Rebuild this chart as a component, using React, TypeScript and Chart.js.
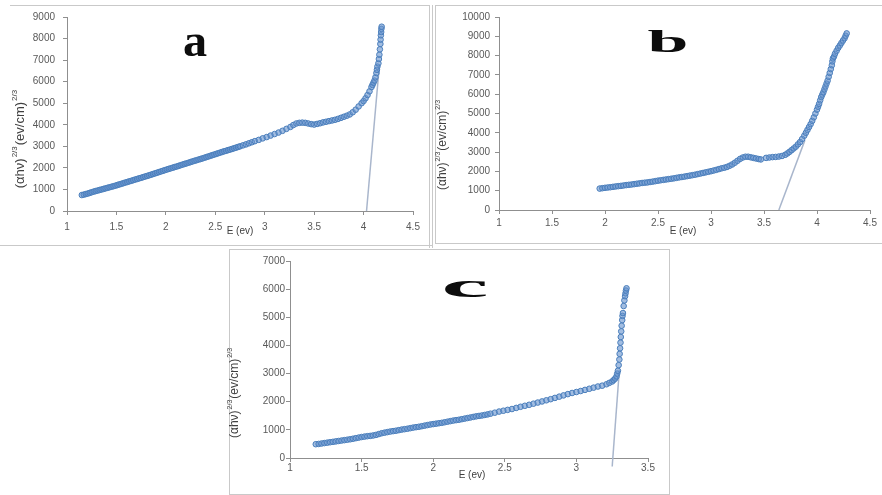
import React, { useEffect, useRef } from "react";
import { Chart, registerables } from "chart.js";

Chart.register(...registerables);

// ---------- Panel a ----------
const aEnergy = [
  1.15, 1.17, 1.19, 1.21, 1.23, 1.25, 1.27, 1.29, 1.31, 1.33, 1.35, 1.37, 1.39, 1.41, 1.43, 1.45,
  1.47, 1.49, 1.51, 1.53, 1.55, 1.57, 1.59, 1.61, 1.63, 1.65, 1.67, 1.69, 1.71, 1.73, 1.75, 1.77,
  1.79, 1.81, 1.83, 1.85, 1.87, 1.89, 1.91, 1.93, 1.95, 1.97, 1.99, 2.01, 2.03, 2.05, 2.07, 2.09,
  2.11, 2.13, 2.15, 2.17, 2.19, 2.21, 2.23, 2.25, 2.27, 2.29, 2.31, 2.33, 2.35, 2.37, 2.39, 2.41,
  2.43, 2.45, 2.47, 2.49, 2.51, 2.53, 2.55, 2.57, 2.59, 2.61, 2.63, 2.65, 2.67, 2.69, 2.71, 2.73,
  2.75, 2.78, 2.81, 2.84, 2.87, 2.9, 2.94, 2.98, 3.02, 3.06, 3.1, 3.14, 3.18, 3.22, 3.26, 3.29,
  3.32, 3.35, 3.38, 3.41, 3.44, 3.47, 3.5, 3.53, 3.56, 3.59, 3.62, 3.65, 3.68, 3.71, 3.74, 3.77,
  3.8, 3.83, 3.86, 3.89, 3.92, 3.95, 3.98, 4.0, 4.02, 4.04, 4.06, 4.08, 4.09, 4.1, 4.11, 4.12,
  4.13, 4.135, 4.14, 4.15, 4.155, 4.16, 4.165, 4.17, 4.172, 4.175, 4.178, 4.18, 4.183,
];
const aValue = [
  740, 760, 785, 810, 840, 870, 900, 925, 950, 975, 1000, 1025, 1050, 1075, 1100, 1125,
  1150, 1175, 1205, 1235, 1260, 1290, 1320, 1345, 1375, 1400, 1430, 1460, 1485, 1515, 1540, 1570,
  1600, 1625, 1655, 1685, 1715, 1745, 1775, 1805, 1835, 1865, 1895, 1925, 1955, 1980, 2010, 2040,
  2065, 2095, 2125, 2155, 2185, 2210, 2240, 2270, 2300, 2330, 2355, 2385, 2410, 2440, 2470, 2500,
  2530, 2560, 2590, 2620, 2650, 2680, 2710, 2740, 2770, 2795, 2825, 2850, 2880, 2910, 2940, 2970,
  3000, 3045, 3090, 3140, 3190, 3240, 3300, 3370, 3430, 3500, 3570, 3640, 3720, 3810, 3900, 3990,
  4060, 4090, 4100, 4090, 4060, 4030, 4010, 4040, 4070, 4110, 4140, 4170, 4200, 4230, 4270, 4320,
  4370, 4420, 4480, 4580, 4700, 4850, 5000, 5100, 5230, 5380, 5550, 5750, 5850, 5950, 6050, 6200,
  6400, 6550, 6700, 6850, 7050, 7250, 7500, 7750, 7950, 8150, 8300, 8450, 8550,
];
const aTangentE = [4.03, 4.16];
const aTangentV = [0, 6760];

// ---------- Panel b ----------
const bEnergy = [
  1.95, 1.975, 2.0, 2.025, 2.05, 2.075, 2.1, 2.125, 2.15, 2.175, 2.2, 2.225, 2.25, 2.275, 2.3, 2.325,
  2.35, 2.375, 2.4, 2.425, 2.45, 2.475, 2.5, 2.525, 2.55, 2.575, 2.6, 2.625, 2.65, 2.675, 2.7, 2.725,
  2.75, 2.775, 2.8, 2.825, 2.85, 2.875, 2.9, 2.925, 2.95, 2.975, 3.0, 3.025, 3.05, 3.075, 3.1, 3.125,
  3.15, 3.175, 3.2, 3.225, 3.25, 3.275, 3.3, 3.325, 3.35, 3.375, 3.4, 3.425, 3.45, 3.47,
  3.52, 3.55, 3.58, 3.61, 3.64, 3.67, 3.7, 3.72, 3.74, 3.76, 3.78, 3.8, 3.82, 3.84, 3.86, 3.88,
  3.895, 3.91, 3.925, 3.94, 3.955, 3.97, 3.985, 4.0, 4.01, 4.02, 4.03, 4.04, 4.05, 4.06, 4.07, 4.08,
  4.09, 4.1, 4.11, 4.12, 4.13, 4.14, 4.145, 4.15, 4.16, 4.17, 4.185, 4.2, 4.215, 4.23, 4.245, 4.26,
  4.27, 4.28,
];
const bValue = [
  1110, 1130, 1150, 1165, 1180, 1200, 1220, 1235, 1250, 1270, 1290, 1305, 1320, 1340, 1360, 1380,
  1400, 1415, 1430, 1450, 1470, 1495, 1520, 1540, 1560, 1580, 1600, 1620, 1640, 1665, 1690, 1710,
  1730, 1755, 1780, 1805, 1830, 1860, 1890, 1920, 1950, 1980, 2010, 2045, 2080, 2120, 2160, 2190,
  2230, 2290, 2360, 2450, 2550, 2650, 2720, 2760, 2760, 2730, 2700, 2670, 2640, 2620,
  2700, 2720, 2740, 2750, 2770, 2800, 2860, 2930, 3010, 3100, 3190, 3280, 3400, 3520, 3680, 3850,
  4000, 4150, 4300, 4450, 4620, 4800, 5000, 5200, 5350, 5500, 5680, 5850, 5980, 6100, 6250, 6400,
  6550, 6700, 6900, 7100, 7300, 7500, 7700, 7850, 7950, 8100, 8250, 8400, 8520, 8650, 8780, 8900,
  9030, 9150,
];
const bTangentE = [3.64, 3.886];
const bTangentV = [0, 3620];

// ---------- Panel c ----------
const cEnergy = [
  1.18, 1.2, 1.22, 1.24, 1.26, 1.28, 1.3, 1.32, 1.34, 1.36, 1.38, 1.4, 1.42, 1.44, 1.46, 1.48,
  1.5, 1.52, 1.54, 1.56, 1.58, 1.6, 1.62, 1.64, 1.66, 1.68, 1.7, 1.72, 1.74, 1.76, 1.78, 1.8,
  1.82, 1.84, 1.86, 1.88, 1.9, 1.92, 1.94, 1.96, 1.98, 2.0, 2.02, 2.04, 2.06, 2.08, 2.1, 2.12,
  2.14, 2.16, 2.18, 2.2, 2.22, 2.24, 2.26, 2.28, 2.3, 2.32, 2.34, 2.36, 2.38, 2.4, 2.43, 2.46,
  2.49, 2.52, 2.55, 2.58, 2.61, 2.64, 2.67, 2.7, 2.73, 2.76, 2.79, 2.82, 2.85, 2.88, 2.91, 2.94,
  2.97, 3.0, 3.03, 3.06, 3.09, 3.12, 3.15, 3.18, 3.21, 3.23, 3.25, 3.26, 3.27, 3.28, 3.285, 3.29,
  3.295, 3.3, 3.302, 3.305, 3.308, 3.31, 3.313, 3.316, 3.32, 3.322, 3.325, 3.33, 3.335, 3.34, 3.343, 3.346,
  3.35,
];
const cValue = [
  490, 500, 515, 530, 545, 560, 575, 590, 605, 620, 635, 650, 665, 685, 705, 725,
  745, 760, 775, 785, 800, 820, 850, 880, 900, 920, 940, 955, 970, 990, 1010, 1025,
  1040, 1060, 1080, 1095, 1110, 1130, 1150, 1170, 1190, 1205, 1220, 1235, 1250, 1270, 1290, 1310,
  1330, 1345, 1360, 1380, 1400, 1420, 1440, 1460, 1480, 1495, 1510, 1530, 1550, 1575, 1610, 1650,
  1680, 1710, 1740, 1780, 1820, 1855, 1890, 1930, 1970, 2010, 2050, 2090, 2135, 2180, 2225, 2270,
  2310, 2345, 2380, 2420, 2460, 2500, 2540, 2570, 2620, 2670, 2720, 2770, 2820, 2900, 3000, 3100,
  3300, 3500, 3700, 3900, 4100, 4300, 4500, 4700, 4900, 5050, 5150, 5400, 5600, 5750, 5850, 5950,
  6030,
];
const cTangentE = [3.25, 3.3];
const cTangentV = [-300, 3130];

const xRangeA = [1, 4.5];
const xRangeB = [1, 4.5];
const xRangeC = [1, 3.5];
const yMaxA = 9000;
const yMaxB = 10000;
const yMaxC = 7000;

const toPoints = (xs: number[], ys: number[]) => xs.map((x, i) => ({ x, y: ys[i] }));

const decorPlugin = {
  id: "decor",
  afterDraw(chart: any, _args: any, o: any) {
    const ctx = chart.ctx as CanvasRenderingContext2D;
    // big panel letter
    ctx.save();
    ctx.translate(o.letterX, o.letterY);
    ctx.scale(o.letterScaleX, 1);
    ctx.font = `bold ${o.letterSize}px "Liberation Serif", serif`;
    ctx.fillStyle = "#0d0d0d";
    ctx.textAlign = "center";
    ctx.textBaseline = "alphabetic";
    ctx.fillText(o.letter, 0, 0);
    ctx.restore();

    // y title with superscripts
    ctx.save();
    ctx.translate(o.yTitleX, o.yTitleY);
    ctx.rotate(-Math.PI / 2);
    const ts = o.titleSize;
    const gap = o.titleGap;
    const mainF = `${ts}px "Liberation Sans", sans-serif`;
    const supF = `${Math.round(ts * 0.62)}px "Liberation Sans", sans-serif`;
    const parts: [string, string, number][] = [
      ["(αhν)", mainF, 0],
      ["2/3", supF, -ts * 0.42],
      ["(ev/cm)", mainF, 0],
      ["2/3", supF, -ts * 0.42],
    ];
    let total = 0;
    const widths = parts.map(([t, f]) => {
      ctx.font = f;
      const w = ctx.measureText(t).width + gap;
      total += w;
      return w;
    });
    total -= gap;
    let cx = -total / 2;
    ctx.fillStyle = "#404040";
    ctx.textBaseline = "middle";
    ctx.textAlign = "left";
    parts.forEach(([t, f, dy], i) => {
      ctx.font = f;
      ctx.fillText(t, cx, dy);
      cx += widths[i];
    });
    ctx.restore();

    // x title
    ctx.save();
    ctx.font = `10px "Liberation Sans", sans-serif`;
    ctx.fillStyle = "#404040";
    ctx.textAlign = "center";
    ctx.textBaseline = "middle";
    ctx.fillText("E (ev)", o.xTitleX, o.xTitleY);
    ctx.restore();
  },
};

type PanelProps = {
  left: number;
  top: number;
  width: number;
  height: number;
  pts: { x: number; y: number }[];
  tangent: { x: number; y: number }[];
  xRange: number[];
  yMax: number;
  yWidth: number;
  xHeight: number;
  pad: { top: number; right: number };
  xTickPad: number;
  yTickPad: number;
  decor: any;
};

function Panel(p: PanelProps) {
  const ref = useRef<HTMLCanvasElement | null>(null);
  useEffect(() => {
    if (!ref.current) return;
    const axisColor = "#8f8f8f";
    const tickFont = { family: '"Liberation Sans", sans-serif', size: 10 };
    const chart = new Chart(ref.current, {
      type: "scatter",
      data: {
        datasets: [
          {
            data: p.pts,
            pointRadius: 2.8,
            pointBorderWidth: 1,
            pointBorderColor: "#4a7ebb",
            pointBackgroundColor: "rgba(100,145,205,0.6)",
            showLine: false,
          },
          {
            data: p.tangent,
            showLine: true,
            pointRadius: 0,
            borderColor: "#a9b6cc",
            borderWidth: 1.5,
            clip: false as any,
          },
        ],
      },
      options: {
        animation: false,
        responsive: false,
        devicePixelRatio: 1,
        layout: { padding: { left: 0, top: p.pad.top, right: p.pad.right, bottom: 0 } },
        plugins: {
          legend: { display: false },
          tooltip: { enabled: false },
          decor: p.decor,
        } as any,
        scales: {
          x: {
            type: "linear",
            min: p.xRange[0],
            max: p.xRange[1],
            afterFit: (s: any) => {
              s.height = p.xHeight;
            },
            border: { display: true, color: axisColor, width: 1 },
            grid: { drawOnChartArea: false, drawTicks: true, tickLength: 4, color: axisColor },
            ticks: {
              stepSize: 0.5,
              color: "#595959",
              font: tickFont,
              padding: p.xTickPad,
              maxRotation: 0,
              callback: (v: any) => String(v),
            },
          },
          y: {
            type: "linear",
            min: 0,
            max: p.yMax,
            afterFit: (s: any) => {
              s.width = p.yWidth;
            },
            border: { display: true, color: axisColor, width: 1 },
            grid: { drawOnChartArea: false, drawTicks: true, tickLength: 4, color: axisColor },
            ticks: {
              stepSize: 1000,
              color: "#595959",
              font: tickFont,
              padding: p.yTickPad,
              callback: (v: any) => String(v),
            },
          },
        },
      },
      plugins: [decorPlugin as any],
    });
    return () => chart.destroy();
  }, []);
  return (
    <canvas
      ref={ref}
      width={p.width}
      height={p.height}
      style={{ position: "absolute", left: p.left, top: p.top, width: p.width, height: p.height }}
    />
  );
}

const line = (left: number, top: number, width: number, height: number): React.CSSProperties => ({
  position: "absolute",
  left,
  top,
  width,
  height,
  background: "#c9c9c9",
});

export default function App() {
  return (
    <div
      style={{
        position: "absolute",
        left: 0,
        top: 0,
        width: 882,
        height: 495,
        background: "#ffffff",
        overflow: "hidden",
      }}
    >
      {/* frames */}
      <div style={line(10, 5, 419, 1)} />
      <div style={line(429, 5, 1, 243)} />
      <div style={line(432, 5, 1, 243)} />
      <div style={line(0, 245, 433, 1)} />
      <div style={line(435, 5, 447, 1)} />
      <div style={line(435, 5, 1, 238)} />
      <div style={line(435, 243, 447, 1)} />
      <div
        style={{
          position: "absolute",
          left: 229,
          top: 249,
          width: 439,
          height: 244,
          border: "1px solid #c9c9c9",
        }}
      />
      <Panel
        left={0}
        top={0}
        width={428}
        height={245}
        pts={toPoints(aEnergy, aValue)}
        tangent={toPoints(aTangentE, aTangentV)}
        xRange={xRangeA}
        yMax={yMaxA}
        yWidth={67}
        xHeight={34}
        pad={{ top: 17, right: 15 }}
        xTickPad={6}
        yTickPad={8}
        decor={{
          letter: "a",
          letterX: 195,
          letterY: 56,
          letterSize: 46,
          letterScaleX: 1.05,
          yTitleX: 20,
          yTitleY: 139,
          titleSize: 13,
          titleGap: 1,
          xTitleX: 240,
          xTitleY: 231,
        }}
      />
      <Panel
        left={432}
        top={0}
        width={450}
        height={245}
        pts={toPoints(bEnergy, bValue)}
        tangent={toPoints(bTangentE, bTangentV)}
        xRange={xRangeB}
        yMax={yMaxB}
        yWidth={67}
        xHeight={35}
        pad={{ top: 17, right: 12 }}
        xTickPad={3}
        yTickPad={5}
        decor={{
          letter: "b",
          letterX: 236,
          letterY: 52,
          letterSize: 32,
          letterScaleX: 2.3,
          yTitleX: 11,
          yTitleY: 145,
          titleSize: 12,
          titleGap: 1,
          xTitleX: 251,
          xTitleY: 231,
        }}
      />
      <Panel
        left={226}
        top={246}
        width={442}
        height={249}
        pts={toPoints(cEnergy, cValue)}
        tangent={toPoints(cTangentE, cTangentV)}
        xRange={xRangeC}
        yMax={yMaxC}
        yWidth={64}
        xHeight={37}
        pad={{ top: 15, right: 20 }}
        xTickPad={0}
        yTickPad={1}
        decor={{
          letter: "c",
          letterX: 239,
          letterY: 51,
          letterSize: 33,
          letterScaleX: 3.2,
          yTitleX: 9,
          yTitleY: 147,
          titleSize: 12,
          titleGap: 1,
          xTitleX: 246,
          xTitleY: 229,
        }}
      />
    </div>
  );
}
